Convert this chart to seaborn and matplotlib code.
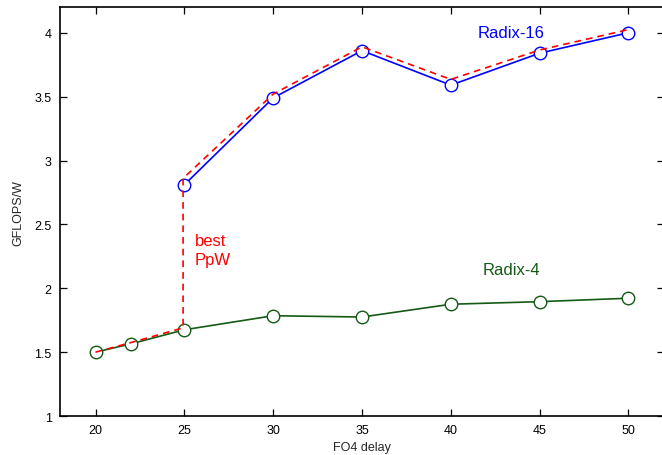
import numpy as np
import pandas as pd
import matplotlib
matplotlib.use("Agg")
import matplotlib.pyplot as plt
import seaborn as sns

# FO4 delay sweep
fo4 = [20, 22, 25, 30, 35, 40, 45, 50]
radix16_x = [25, 30, 35, 40, 45, 50]
radix16_y = [2.81, 3.49, 3.86, 3.59, 3.84, 4.00]
radix4_y = [1.50, 1.565, 1.675, 1.785, 1.775, 1.875, 1.895, 1.922]

# best performance-per-watt envelope (jumps from radix-4 to radix-16)
best_x = [20, 22, 24.93, 24.93, 30, 35, 40, 45, 50]
best_y = [1.50, 1.575, 1.69, 2.86, 3.52, 3.89, 3.635, 3.865, 4.025]

BLUE = "#0000ff"
GREEN = "#155a15"
RED = "#ff0000"

sns.set_style("ticks")
plt.rcParams["font.family"] = ["Liberation Sans", "DejaVu Sans"]

fig = plt.figure(figsize=(6.62, 4.56), dpi=100)
ax = fig.add_axes([0.0906, 0.0855, 0.9124, 0.8965])

r16 = pd.DataFrame({"fo4": radix16_x, "gpw": radix16_y})
r4 = pd.DataFrame({"fo4": fo4, "gpw": radix4_y})
best = pd.DataFrame({"fo4": best_x, "gpw": best_y})

marker_kw = dict(marker="o", markersize=9, markerfacecolor="white", markeredgewidth=1.0)
sns.lineplot(data=r16, x="fo4", y="gpw", color=BLUE, linewidth=1.2,
             markeredgecolor=BLUE, estimator=None, ax=ax, zorder=3, **marker_kw)
sns.lineplot(data=r4, x="fo4", y="gpw", color=GREEN, linewidth=1.2,
             markeredgecolor=GREEN, estimator=None, ax=ax, zorder=3, **marker_kw)
sns.lineplot(data=best, x="fo4", y="gpw", color=RED, linewidth=1.2,
             linestyle=(0, (4, 3)), estimator=None, sort=False, ax=ax, zorder=4)

ax.text(43.4, 4.0, "Radix-16", color=BLUE, fontsize=12, ha="center", va="center")
ax.text(43.4, 2.15, "Radix-4", color=GREEN, fontsize=12, ha="center", va="center")
ax.text(25.6, 2.30, "best\nPpW", color=RED, fontsize=12, ha="left", va="center",
        linespacing=1.35)

ax.set_xlim(18, 52)
ax.set_ylim(1, 4.2)
ax.set_xticks([20, 25, 30, 35, 40, 45, 50])
ax.set_yticks([1, 1.5, 2, 2.5, 3, 3.5, 4])
ax.set_yticklabels(["1", "1.5", "2", "2.5", "3", "3.5", "4"])
ax.tick_params(direction="in", length=5, width=0.9, top=True, right=True,
               labelsize=9, colors="black", pad=6)
for s in ax.spines.values():
    s.set_visible(True)
    s.set_linewidth(1.2)
    s.set_color("black")
ax.set_xlabel("FO4 delay", fontsize=9, labelpad=3)
ax.set_ylabel("GFLOPS/W", fontsize=9, labelpad=7)

fig.savefig("out.png", dpi=100)
